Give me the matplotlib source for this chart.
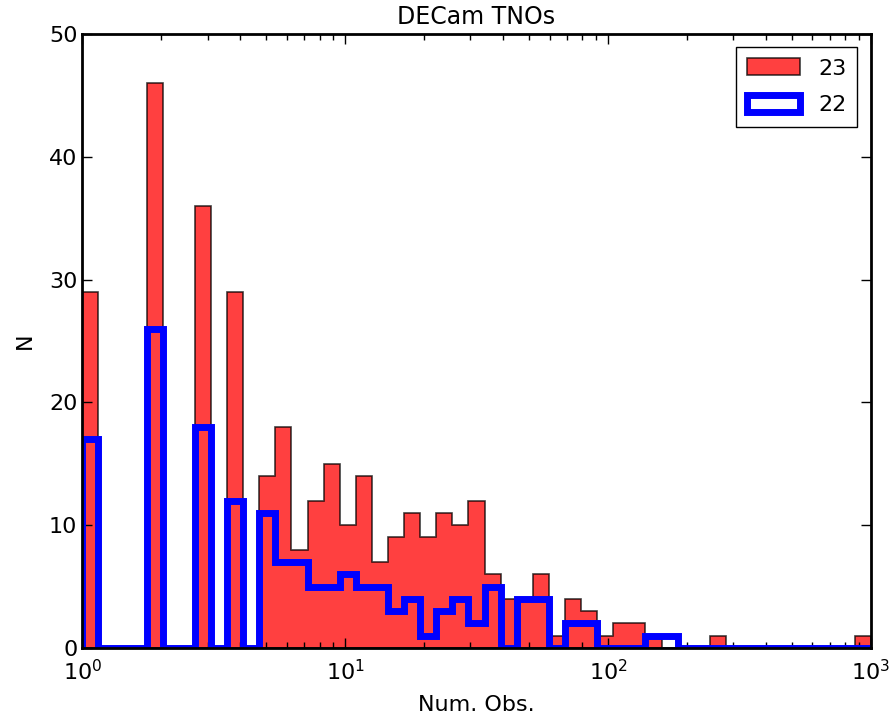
import numpy as np
import matplotlib.pyplot as plt

# 49 log-spaced bins between 1 and 1000 observations
bin_edges = np.logspace(0, 3, 50)

# objects per bin
counts_23 = [29, 0, 0, 0, 46, 0, 0, 36, 0, 29,
             0, 14, 18, 8, 12, 15, 10, 14, 7, 9,
             11, 9, 11, 10, 12, 6, 4, 4, 6, 1,
             4, 3, 1, 2, 2, 1, 0, 0, 0, 1,
             0, 0, 0, 0, 0, 0, 0, 0, 1]
counts_22 = [17, 0, 0, 0, 26, 0, 0, 18, 0, 12,
             0, 11, 7, 7, 5, 5, 6, 5, 5, 3,
             4, 1, 3, 4, 2, 5, 0, 4, 4, 0,
             2, 2, 0, 0, 0, 1, 1, 0, 0, 0,
             0, 0, 0, 0, 0, 0, 0, 0, 0]
labels = ['23', '22']

centers = np.sqrt(bin_edges[:-1] * bin_edges[1:])

fig = plt.figure(figsize=(8.94, 7.2), dpi=100)
ax = fig.add_axes([0.092, 0.1, 0.882, 0.853])

ax.hist(centers, bins=bin_edges, weights=counts_23, histtype='stepfilled',
        color='r', alpha=0.75, edgecolor='k', linewidth=1.2, label=labels[0])
ax.hist(centers, bins=bin_edges, weights=counts_22, histtype='step',
        color='b', linewidth=5, label=labels[1])

ax.set_xscale('log')
ax.set_xlim(1, 1000)
ax.set_ylim(0, 50)
ax.set_yticks([0, 10, 20, 30, 40, 50])

ax.tick_params(which='both', direction='in', top=True, right=True, labelsize=16)
ax.tick_params(which='major', length=7, width=1)
ax.tick_params(which='minor', length=4, width=1)
ax.tick_params(axis='x', pad=8)
for sp in ax.spines.values():
    sp.set_linewidth(2)

ax.set_title('DECam TNOs', fontsize=17, pad=7)
ax.set_xlabel('Num. Obs.', fontsize=16, labelpad=8)
ax.set_ylabel('N', fontsize=16, labelpad=10)

leg = ax.legend(loc='upper right', fontsize=16, fancybox=False, framealpha=1,
                handlelength=2.4, handleheight=0.8, handletextpad=0.8,
                labelspacing=0.75, borderpad=0.5, borderaxespad=0.6)
leg.get_frame().set_edgecolor('k')

fig.savefig('out.png', dpi=100, facecolor='white')
